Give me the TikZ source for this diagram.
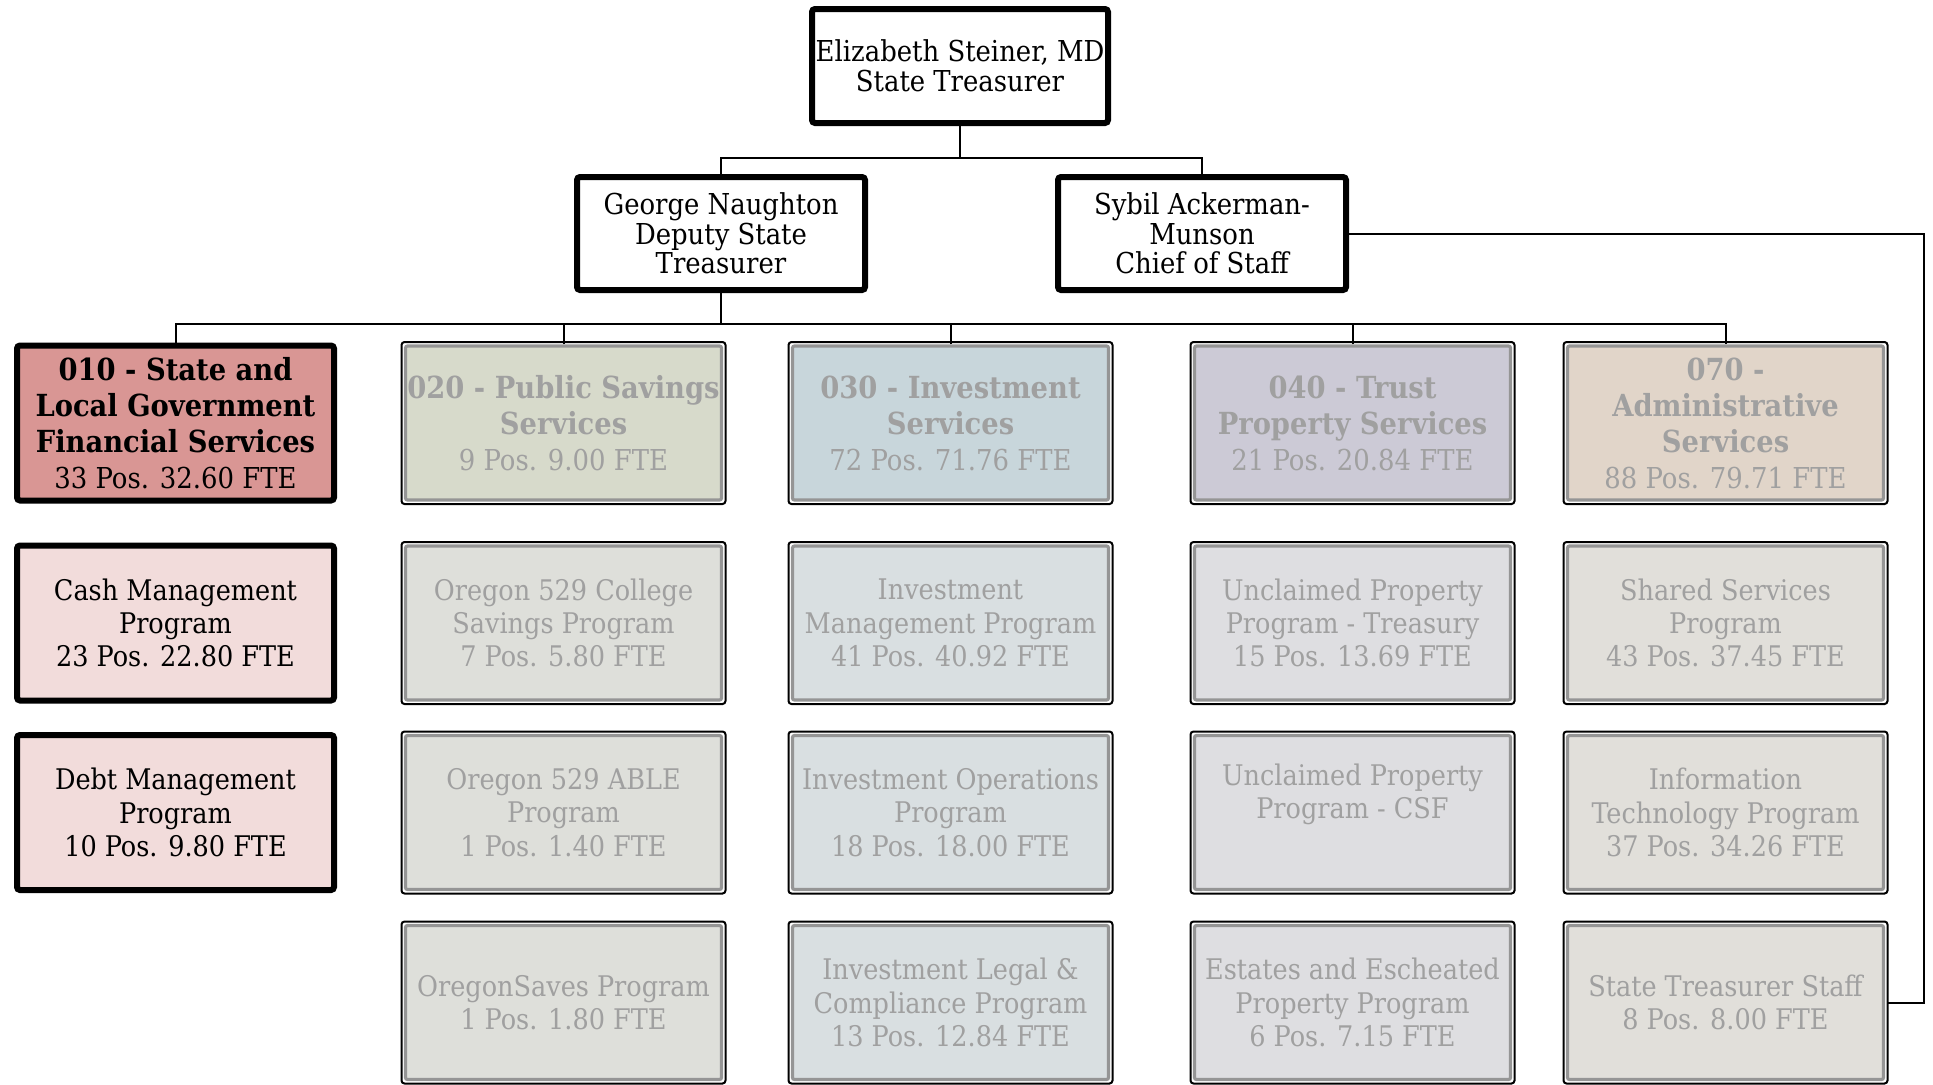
\documentclass[tikz,border=0pt]{standalone}
\usepackage{fontspec}
\setmainfont{DejaVu Serif Condensed}
\definecolor{hdrA}{HTML}{D99694}
\definecolor{kidA}{HTML}{F2DCDB}
\definecolor{hdrB}{HTML}{D7DACB}
\definecolor{kidB}{HTML}{DEDFDA}
\definecolor{hdrC}{HTML}{C8D6DB}
\definecolor{kidC}{HTML}{D9DFE1}
\definecolor{hdrD}{HTML}{CCCAD6}
\definecolor{kidD}{HTML}{DEDEE1}
\definecolor{hdrE}{HTML}{E1D5C9}
\definecolor{kidE}{HTML}{E1DFDA}
\definecolor{fadetext}{HTML}{A0A0A0}
\definecolor{fadeline}{HTML}{959595}
\newcommand{\unitbold}[1]{{\fontsize{15.2}{18}\selectfont\bfseries #1}}
\begin{document}
\begin{tikzpicture}[x=0.5pt,y=-0.5pt,
  exec/.style={draw=black, line width=3pt, fill=white, rounded corners=1.5pt,
    align=center, inner sep=0pt, font=\fontsize{14.4}{14.8}\selectfont},
  unit/.style={draw=black, line width=3pt, rounded corners=1.5pt,
    minimum width=158.5pt, minimum height=77.5pt, align=center, inner sep=0pt,
    font=\fontsize{14.2}{16.6}\selectfont},
  faded/.style={draw=fadeline, line width=1.6pt, rounded corners=1pt,
    minimum width=158pt, minimum height=77pt, align=center, inner sep=0pt,
    text=fadetext, font=\fontsize{14.2}{16.6}\selectfont},
  hdr/.style={font=\fontsize{14.4}{18}\selectfont},
  conn/.style={line width=1pt, draw=black}
]
\useasboundingbox (0,0) rectangle (1933,1084);

% executives
\node[exec, minimum width=148pt, minimum height=57pt] (top) at (960,66)
  {Elizabeth Steiner, MD\\State Treasurer};
\node[exec, minimum width=144pt, minimum height=56.5pt] (george) at (721,233.5)
  {George Naughton\\Deputy State\\Treasurer};
\node[exec, minimum width=144pt, minimum height=56.5pt] (sybil) at (1202,233.5)
  {Sybil Ackerman-\\Munson\\Chief of Staff};

% 010 column
\node[unit, fill=hdrA, hdr] (h1) at (175.5,423)
  {\unitbold{010 - State and}\\\unitbold{Local Government}\\\unitbold{Financial Services}\\33 Pos. 32.60 FTE};
\node[unit, fill=kidA] (a1) at (175.5,623)
  {Cash Management\\Program\\23 Pos. 22.80 FTE};
\node[unit, fill=kidA] (a2) at (175.5,812.5)
  {Debt Management\\Program\\10 Pos. 9.80 FTE};

% 020 column
\node[faded, fill=hdrB, hdr] (h2) at (563.5,423)
  {\unitbold{020 - Public Savings}\\\unitbold{Services}\\9 Pos. 9.00 FTE};
\node[faded, fill=kidB] (b1) at (563.5,623)
  {Oregon 529 College\\Savings Program\\7 Pos. 5.80 FTE};
\node[faded, fill=kidB] (b2) at (563.5,812.5)
  {Oregon 529 ABLE\\Program\\1 Pos. 1.40 FTE};
\node[faded, fill=kidB] (b3) at (563.5,1002.5)
  {OregonSaves Program\\1 Pos. 1.80 FTE};

% 030 column
\node[faded, fill=hdrC, hdr] (h3) at (950.5,423)
  {\unitbold{030 - Investment}\\\unitbold{Services}\\72 Pos. 71.76 FTE};
\node[faded, fill=kidC] (c1) at (950.5,623)
  {Investment\\Management Program\\41 Pos. 40.92 FTE};
\node[faded, fill=kidC] (c2) at (950.5,812.5)
  {Investment Operations\\Program\\18 Pos. 18.00 FTE};
\node[faded, fill=kidC] (c3) at (950.5,1002.5)
  {Investment Legal \&\\Compliance Program\\13 Pos. 12.84 FTE};

% 040 column
\node[faded, fill=hdrD, hdr] (h4) at (1352.5,423)
  {\unitbold{040 - Trust}\\\unitbold{Property Services}\\21 Pos. 20.84 FTE};
\node[faded, fill=kidD] (d1) at (1352.5,623)
  {Unclaimed Property\\Program - Treasury\\15 Pos. 13.69 FTE};
\node[faded, fill=kidD] (d2) at (1352.5,812.5)
  {Unclaimed Property\\Program - CSF\\\strut};
\node[faded, fill=kidD] (d3) at (1352.5,1002.5)
  {Estates and Escheated\\Property Program\\6 Pos. 7.15 FTE};

% 070 column
\node[faded, fill=hdrE, hdr] (h5) at (1725.5,423)
  {\unitbold{070 -}\\\unitbold{Administrative}\\\unitbold{Services}\\88 Pos. 79.71 FTE};
\node[faded, fill=kidE] (e1) at (1725.5,623)
  {Shared Services\\Program\\43 Pos. 37.45 FTE};
\node[faded, fill=kidE] (e2) at (1725.5,812.5)
  {Information\\Technology Program\\37 Pos. 34.26 FTE};
\node[faded, fill=kidE] (staff) at (1725.5,1002.5)
  {State Treasurer Staff\\8 Pos. 8.00 FTE};

% thin black rim around the faded boxes
\foreach \n in {h2,b1,b2,b3,h3,c1,c2,c3,h4,d1,d2,d3,h5,e1,e2,staff}
  \draw[line width=1pt, rounded corners=1.5pt]
    ([shift={(-1.2pt,1.2pt)}]\n.north west) rectangle ([shift={(1.2pt,-1.2pt)}]\n.south east);

% reporting lines
\coordinate (busA) at (960,158);
\coordinate (busB) at (721,324);
\coordinate (rim) at (1924,0);
\draw[conn] (top.south) -- (busA);
\draw[conn] (george.north) |- (busA) -| (sybil.north);
\draw[conn] (george.south) -- (busB);
\draw[conn] (h1.north) |- (busB) -| (h5.north);
\foreach \n in {h2,h3,h4}
  \draw[conn] (\n.north) -- (\n.north |- busB);
\draw[conn] (sybil.east) -- (sybil.east -| rim) |- ([xshift=1.2pt]staff.east);
\end{tikzpicture}
\end{document}
